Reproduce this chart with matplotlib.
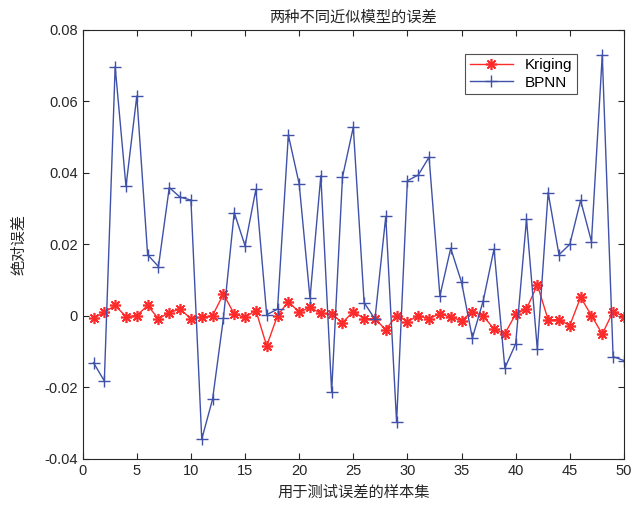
import matplotlib
matplotlib.use('Agg')
import matplotlib.pyplot as plt
import numpy as np

plt.rcParams['font.family'] = ['Liberation Sans', 'Noto Sans CJK SC', 'DejaVu Sans']

# sample index 1..50
samples = list(range(1, 51))

kriging = [-0.0007, 0.0010, 0.0029, -0.0002, 0.0001, 0.0029, -0.0008, 0.0009, 0.0019, -0.0008,
           -0.0004, 0.0001, 0.0061, 0.0005, -0.0004, 0.0015, -0.0084, 0.0001, 0.0040, 0.0010,
           0.0024, 0.0007, 0.0005, -0.0019, 0.0012, -0.0008, -0.0008, -0.0039, 0.0001, -0.0016,
           0.0000, -0.0008, 0.0006, -0.0004, -0.0013, 0.0012, 0.0000, -0.0037, -0.0050, 0.0005,
           0.0019, 0.0087, -0.0011, -0.0011, -0.0027, 0.0052, 0.0001, -0.0051, 0.0012, -0.0002]

bpnn = [-0.0131, -0.0182, 0.0697, 0.0362, 0.0615, 0.0171, 0.0138, 0.0359, 0.0332, 0.0324,
        -0.0345, -0.0233, -0.0007, 0.0289, 0.0196, 0.0354, 0.0003, 0.0019, 0.0506, 0.0369,
        0.0049, 0.0392, -0.0212, 0.0388, 0.0528, 0.0037, -0.0009, 0.0278, -0.0298, 0.0378,
        0.0394, 0.0444, 0.0056, 0.0189, 0.0094, -0.0062, 0.0042, 0.0187, -0.0146, -0.0078,
        0.0270, -0.0093, 0.0345, 0.0171, 0.0200, 0.0323, 0.0208, 0.0730, -0.0114, -0.0125]

xticks = [0, 5, 10, 15, 20, 25, 30, 35, 40, 45, 50]
yticks = [-0.04, -0.02, 0, 0.02, 0.04, 0.06, 0.08]
ylabels = ['-0.04', '-0.02', '0', '0.02', '0.04', '0.06', '0.08']

fig = plt.figure(figsize=(6.36, 5.15), dpi=100)
ax = fig.add_axes([0.130, 0.109, 0.851, 0.833])

# matlab style asterisk: 8 spokes
ax.plot(samples, kriging, color='#ff2a2a', marker=(8, 2, 0), markersize=8, markeredgewidth=1.2,
        linewidth=1.0, label='Kriging')
ax.plot(samples, bpnn, color='#3f51a8', marker='+', markersize=9, markeredgewidth=1.0,
        linewidth=1.0, label='BPNN')

ax.set_xlim(0, 50)
ax.set_ylim(-0.04, 0.08)
ax.set_xticks(xticks)
ax.set_yticks(yticks)
ax.set_yticklabels(ylabels)
ax.tick_params(direction='in', top=True, right=True, labelsize=10.5, colors='#262626', length=4)
for s in ax.spines.values():
    s.set_color('#262626')
    s.set_linewidth(0.8)

ax.set_title('两种不同近似模型的误差', fontsize=11, family=['Noto Sans CJK SC'], color='#262626', pad=6)
ax.set_xlabel('用于测试误差的样本集', fontsize=11, family=['Noto Sans CJK SC'], color='#262626', labelpad=4)
ax.set_ylabel('绝对误差', fontsize=11, family=['Noto Sans CJK SC'], color='#262626', labelpad=12)

leg = ax.legend(loc='upper right', bbox_to_anchor=(0.913, 0.944), borderaxespad=0,
                fancybox=False, edgecolor='#262626', fontsize=11, handlelength=2.8,
                borderpad=0.3, labelspacing=0.2)
leg.get_frame().set_linewidth(0.8)

fig.savefig('out.png', dpi=100)
